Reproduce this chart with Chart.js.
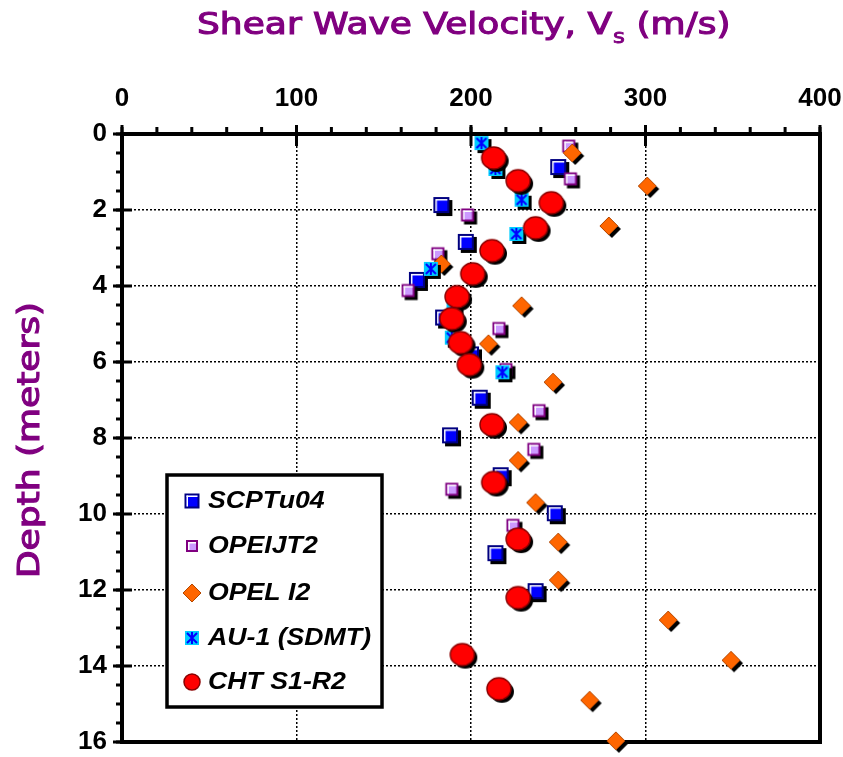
<!DOCTYPE html>
<html>
<head>
<meta charset="utf-8">
<script src="https://cdn.jsdelivr.net/npm/chart.js@4.4.1/dist/chart.umd.min.js"></script>
<style>
  html, body { margin: 0; padding: 0; background: #fff; }
</style>
</head>
<body>
<canvas id="vsChart" width="843" height="757"></canvas>
<script>
// Shear wave velocity (m/s) vs depth (m)
const scptDepth = [0.87, 1.87, 2.84, 3.84, 4.83, 5.8, 6.94, 7.93, 8.98, 9.98, 11.03, 12.03];
const scptVs    = [250, 183, 197, 169, 184, 200, 205, 188, 217, 248, 214, 237];

const opeiDepth = [0.32, 1.18, 2.13, 3.15, 4.12, 5.12, 6.2, 7.28, 8.3, 9.35, 10.3];
const opeiVs    = [256, 257, 198, 181, 164, 216, 220, 239, 236, 189, 224];

const opelDepth = [0.5, 1.37, 2.42, 3.42, 4.52, 5.52, 6.53, 7.59, 8.59, 9.7, 10.74, 11.74, 12.79, 13.85, 14.9, 15.97];
const opelVs    = [258, 301, 279, 183, 229, 210, 247, 227, 227, 237, 250, 250, 313, 349, 268, 283];

const au1Depth  = [0.24, 0.92, 1.73, 2.63, 3.55, 4.52, 5.36, 6.27];
const au1Vs     = [206, 214, 229, 226, 177, 190, 189, 218];

const chtDepth  = [0.63, 1.23, 1.81, 2.47, 3.07, 3.68, 4.28, 4.86, 5.49, 6.07, 7.65, 9.17, 10.66, 12.2, 13.7, 14.6];
const chtVs     = [213, 227, 246, 237, 212, 201, 192, 189, 194, 199, 212, 213, 227, 227, 195, 216];

const seriesNames = ['SCPTu04', 'OPEIJT2', 'OPEL I2', 'AU-1 (SDMT)', 'CHT S1-R2'];
const xTicks = [0, 100, 200, 300, 400];
const yTicks = [0, 2, 4, 6, 8, 10, 12, 14, 16];

const PURPLE = '#800080';

// ---- marker shapes ----
function squareMarker(size, edge, fill) {
    return (ctx, x, y, shadow) => {
        const h = size / 2;
        if (shadow) { ctx.fillStyle = '#000'; ctx.fillRect(x - h, y - h, size, size); return; }
        ctx.fillStyle = edge;
        ctx.fillRect(x - h, y - h, size, size);
        ctx.fillStyle = fill;
        ctx.fillRect(x - h + 2, y - h + 2, size - 4, size - 4);
        ctx.fillStyle = '#fff';
        ctx.fillRect(x - h + 2, y - h + 2, size - 4, 1.5);
        ctx.fillRect(x - h + 2, y - h + 2, 1.5, size - 4);
    };
}

function diamondMarker(half) {
    return (ctx, x, y, shadow) => {
        ctx.beginPath();
        ctx.moveTo(x, y - half);
        ctx.lineTo(x + half, y);
        ctx.lineTo(x, y + half);
        ctx.lineTo(x - half, y);
        ctx.closePath();
        ctx.fillStyle = shadow ? '#000' : '#FF6600';
        ctx.fill();
        if (!shadow) { ctx.strokeStyle = '#B34700'; ctx.lineWidth = 1; ctx.stroke(); }
    };
}

function dmtMarker(size) {
    return (ctx, x, y, shadow) => {
        const h = size / 2;
        if (shadow) { ctx.fillStyle = '#000'; ctx.fillRect(x - h, y - h, size, size); return; }
        ctx.fillStyle = '#00CCFF';
        ctx.fillRect(x - h, y - h, size, size);
        ctx.strokeStyle = '#0000FF';
        ctx.lineWidth = 2;
        const a = h - 2;
        ctx.beginPath();
        ctx.moveTo(x - a, y - a); ctx.lineTo(x + a, y + a);
        ctx.moveTo(x + a, y - a); ctx.lineTo(x - a, y + a);
        ctx.moveTo(x, y - a - 1); ctx.lineTo(x, y + a + 1);
        ctx.stroke();
    };
}

function circleMarker(rx, ry) {
    return (ctx, x, y, shadow) => {
        ctx.beginPath();
        ctx.ellipse(x, y, rx, ry, 0, 0, Math.PI * 2);
        ctx.fillStyle = shadow ? '#000' : '#FF0000';
        ctx.fill();
        if (!shadow) { ctx.strokeStyle = '#8B0000'; ctx.lineWidth = 1.5; ctx.stroke(); }
    };
}

function makeIcon(draw, half, withShadow) {
    const pad = 5;
    const size = Math.ceil(2 * (half + pad));
    const cv = document.createElement('canvas');
    cv.width = size; cv.height = size;
    const ctx = cv.getContext('2d');
    const c = size / 2;
    if (withShadow) draw(ctx, c + 3, c + 3, true);
    draw(ctx, c, c, false);
    return cv;
}

const plotShapes = [
    [squareMarker(16, '#000080', '#0000FF'), 8],
    [squareMarker(13, PURPLE, '#CC99FF'), 7],
    [diamondMarker(9), 9],
    [dmtMarker(14), 7],
    [circleMarker(12, 11), 12]
];
const legendShapes = [
    [squareMarker(15, '#000080', '#0000FF'), 8],
    [squareMarker(12, PURPLE, '#CC99FF'), 6],
    [diamondMarker(9), 9],
    [dmtMarker(14), 7],
    [circleMarker(8, 8), 8]
];
const plotIcons = plotShapes.map(([d, h]) => makeIcon(d, h, true));
const legendIcons = legendShapes.map(([d, h]) => makeIcon(d, h, false));

function toPoints(vs, depth) {
    return vs.map((v, i) => ({ x: v, y: depth[i] }));
}

const allSeries = [
    [scptVs, scptDepth],
    [opeiVs, opeiDepth],
    [opelVs, opelDepth],
    [au1Vs, au1Depth],
    [chtVs, chtDepth]
];

const datasets = allSeries.map(([vs, depth], i) => ({
    label: seriesNames[i],
    data: toPoints(vs, depth),
    pointStyle: plotIcons[i],
    pointRadius: 8,
    pointHoverRadius: 8,
    showLine: false,
    clip: false,
    order: 5 - i   // later series drawn on top
}));

// draw text stretched horizontally, with a thin stroke for a heavier look
function drawScaledText(ctx, text, x, y, sx, stroke) {
    ctx.save();
    ctx.translate(x, y);
    ctx.scale(sx, 1);
    ctx.fillText(text, 0, 0);
    if (stroke) {
        ctx.strokeStyle = ctx.fillStyle;
        ctx.lineWidth = stroke;
        ctx.strokeText(text, 0, 0);
    }
    const w = ctx.measureText(text).width * sx;
    ctx.restore();
    return w;
}

const framePlugin = {
    id: 'frame',
    beforeDatasetsDraw(chart) {
        const { ctx, chartArea: a } = chart;
        const xs = chart.scales.x, ys = chart.scales.y;
        ctx.save();
        ctx.strokeStyle = '#000';
        ctx.lineCap = 'butt';
        // minor ticks
        ctx.lineWidth = 3;
        ctx.beginPath();
        for (let v = 0; v <= 400; v += 20) {
            const px = xs.getPixelForValue(v);
            ctx.moveTo(px, a.top - 7); ctx.lineTo(px, a.top);
        }
        for (let d = 0; d <= 16; d += 0.5) {
            const py = ys.getPixelForValue(d);
            ctx.moveTo(a.left - 6, py); ctx.lineTo(a.left, py);
        }
        ctx.stroke();
        // major ticks crossing the axes
        ctx.beginPath();
        xTicks.forEach(v => {
            const px = xs.getPixelForValue(v);
            ctx.moveTo(px, a.top - 9); ctx.lineTo(px, a.top + 12);
        });
        yTicks.forEach(d => {
            const py = ys.getPixelForValue(d);
            ctx.moveTo(a.left - 9, py); ctx.lineTo(a.left + 10, py);
        });
        ctx.stroke();
        // frame
        ctx.lineWidth = 4;
        ctx.strokeRect(a.left, a.top, a.right - a.left, a.bottom - a.top);
        ctx.restore();
    },
    afterDraw(chart) {
        const ctx = chart.ctx;
        ctx.save();
        // top title with subscript
        ctx.fillStyle = PURPLE;
        ctx.textBaseline = 'alphabetic';
        ctx.textAlign = 'left';
        const sx = 1.2;
        let x = 197;
        ctx.font = '30px "DejaVu Sans"';
        x += drawScaledText(ctx, 'Shear Wave Velocity, V', x, 34, sx, 1.1);
        ctx.font = '19px "DejaVu Sans"';
        x += drawScaledText(ctx, 's', x + 1, 43, sx, 0.8) + 1;
        ctx.font = '30px "DejaVu Sans"';
        drawScaledText(ctx, ' (m/s)', x, 34, sx, 1.1);

        // y axis title
        ctx.save();
        ctx.translate(39, 440);
        ctx.rotate(-Math.PI / 2);
        ctx.textAlign = 'center';
        ctx.font = '30px "DejaVu Sans"';
        ctx.scale(1.2, 1);
        ctx.fillText('Depth (meters)', 0, 0);
        ctx.strokeStyle = PURPLE;
        ctx.lineWidth = 1.1;
        ctx.strokeText('Depth (meters)', 0, 0);
        ctx.restore();

        // legend
        const bx = 167, by = 475, bw = 215, bh = 232;
        ctx.fillStyle = '#fff';
        ctx.fillRect(bx, by, bw, bh);
        ctx.strokeStyle = '#000';
        ctx.lineWidth = 3.5;
        ctx.strokeRect(bx, by, bw, bh);
        const rows = [501, 546, 593, 638, 682];
        ctx.font = 'italic bold 23px "Liberation Sans"';
        ctx.fillStyle = '#000';
        ctx.textBaseline = 'middle';
        seriesNames.forEach((name, i) => {
            const ic = legendIcons[i];
            ctx.drawImage(ic, 192 - ic.width / 2, rows[i] - ic.height / 2);
            drawScaledText(ctx, name, 208, rows[i] + 1, 1.16, 0);
        });
        ctx.restore();
    }
};

const tickFont = { family: '"Liberation Sans", Arial, sans-serif', size: 26, weight: 'bold' };

new Chart(document.getElementById('vsChart'), {
    type: 'scatter',
    data: { datasets },
    options: {
        responsive: false,
        animation: false,
        events: [],
        layout: { padding: 0 },
        plugins: { legend: { display: false }, tooltip: { enabled: false } },
        scales: {
            x: {
                type: 'linear',
                position: 'top',
                min: 0, max: 400,
                afterFit: s => { s.height = 134; s.paddingRight = 23; s.paddingLeft = 0; },
                afterBuildTicks: s => { s.ticks = xTicks.map(v => ({ value: v })); },
                ticks: { font: tickFont, color: '#000', padding: 20, maxRotation: 0, autoSkip: false },
                grid: { color: '#000', lineWidth: 1.5, drawTicks: false },
                border: { display: false, dash: [2, 2] }
            },
            y: {
                type: 'linear',
                reverse: true,
                min: 0, max: 16,
                afterFit: s => { s.width = 122; s.paddingTop = 0; s.paddingBottom = 15; },
                afterBuildTicks: s => { s.ticks = yTicks.map(v => ({ value: v })); },
                ticks: { font: tickFont, color: '#000', padding: 15, autoSkip: false },
                grid: { color: '#000', lineWidth: 1.5, drawTicks: false },
                border: { display: false, dash: [2, 2] }
            }
        }
    },
    plugins: [framePlugin]
});
</script>
</body>
</html>
